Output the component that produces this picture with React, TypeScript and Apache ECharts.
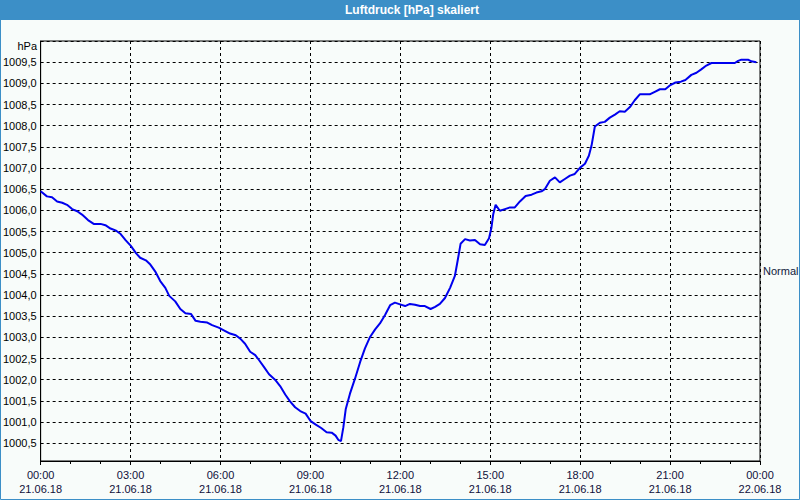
import React, { useEffect, useRef } from "react";
import * as echarts from "echarts";

const title = "Luftdruck [hPa] skaliert";
const unit = "hPa";
const normalLabel = "Normal";
const normalValue = 1004.56;

// hours since 21.06.18 00:00
const hours = [
  0.0, 0.21, 0.38, 0.55, 0.72, 0.88, 1.05, 1.22, 1.38, 1.58, 1.77, 2.0, 2.16, 2.33, 2.52, 2.67, 2.84,
  3.01, 3.18, 3.32, 3.51, 3.66, 3.82, 3.99, 4.16, 4.29, 4.49, 4.66, 4.83, 5.02, 5.17, 5.33, 5.56, 5.72,
  5.94, 6.16, 6.32, 6.51, 6.66, 6.82, 6.99, 7.16, 7.29, 7.46, 7.62, 7.82, 7.99, 8.16, 8.32, 8.49, 8.66,
  8.84, 9.01, 9.18, 9.36, 9.54, 9.71, 9.84, 9.93, 10.02, 10.1, 10.18, 10.32, 10.49, 10.66, 10.82, 10.99,
  11.16, 11.32, 11.49, 11.66, 11.82, 11.99, 12.16, 12.32, 12.49, 12.66, 12.82, 13.01, 13.16, 13.32,
  13.49, 13.66, 13.82, 13.93, 14.01, 14.16, 14.32, 14.49, 14.66, 14.82, 14.96, 15.04, 15.1, 15.18,
  15.32, 15.49, 15.66, 15.82, 15.99, 16.18, 16.38, 16.54, 16.71, 16.82, 16.99, 17.16, 17.32, 17.49,
  17.66, 17.82, 18.0, 18.16, 18.29, 18.38, 18.49, 18.66, 18.82, 18.99, 19.16, 19.32, 19.49, 19.66,
  19.82, 19.99, 20.16, 20.32, 20.49, 20.66, 20.84, 21.01, 21.18, 21.36, 21.51, 21.71, 21.88, 22.04,
  22.21, 22.38, 22.6, 22.82, 23.16, 23.27, 23.38, 23.6, 23.71, 23.88,
];

const pressure = [
  1006.45, 1006.33, 1006.31, 1006.21, 1006.18, 1006.13, 1006.03, 1005.98, 1005.9, 1005.77, 1005.68,
  1005.68, 1005.65, 1005.57, 1005.52, 1005.44, 1005.29, 1005.16, 1004.99, 1004.88, 1004.82, 1004.72,
  1004.56, 1004.33, 1004.17, 1003.98, 1003.85, 1003.67, 1003.57, 1003.55, 1003.39, 1003.37, 1003.35,
  1003.29, 1003.23, 1003.15, 1003.09, 1003.05, 1002.97, 1002.85, 1002.66, 1002.58, 1002.46, 1002.29,
  1002.13, 1002.0, 1001.85, 1001.65, 1001.49, 1001.35, 1001.26, 1001.2, 1001.02, 1000.94, 1000.86,
  1000.76, 1000.75, 1000.68, 1000.58, 1000.55, 1000.88, 1001.31, 1001.67, 1002.03, 1002.42, 1002.74,
  1003.01, 1003.19, 1003.33, 1003.53, 1003.76, 1003.82, 1003.78, 1003.74, 1003.79, 1003.77, 1003.74,
  1003.74, 1003.67, 1003.72, 1003.79, 1003.93, 1004.17, 1004.45, 1004.88, 1005.21, 1005.32, 1005.29,
  1005.3, 1005.2, 1005.18, 1005.34, 1005.59, 1005.91, 1006.13, 1005.99, 1006.03, 1006.07, 1006.07,
  1006.21, 1006.34, 1006.37, 1006.42, 1006.45, 1006.5, 1006.7, 1006.78, 1006.66, 1006.74, 1006.82,
  1006.86, 1007.01, 1007.1, 1007.29, 1007.53, 1007.98, 1008.07, 1008.09, 1008.19, 1008.26, 1008.34,
  1008.33, 1008.44, 1008.6, 1008.74, 1008.74, 1008.74, 1008.8, 1008.86, 1008.86, 1008.96, 1009.02,
  1009.04, 1009.08, 1009.2, 1009.25, 1009.33, 1009.42, 1009.48, 1009.48, 1009.48, 1009.48, 1009.53,
  1009.56, 1009.56, 1009.52, 1009.5,
];

const startDate = "21.06.18";
const endDate = "22.06.18";

const FONT = "Liberation Sans";
const BLUE = "#3c8fc7";

export default function App() {
  const ref = useRef<HTMLDivElement>(null);
  useEffect(() => {
    if (!ref.current) return;
    const chart = echarts.init(ref.current, undefined, { renderer: "svg" });
    const dash = { color: "#000", width: 1, type: [3, 3] as number[] };
    chart.setOption({
      animation: false,
      backgroundColor: "#f8fcfa",
      textStyle: { fontFamily: FONT },
      grid: {
        left: 40,
        right: 40,
        top: 41,
        bottom: 39,
        show: true,
        borderColor: "#000",
        borderWidth: 1,
        backgroundColor: "transparent",
      },
      graphic: [
        { type: "rect", shape: { x: 0, y: 0, width: 800, height: 20 }, style: { fill: BLUE }, z: 10 },
        {
          type: "rect",
          shape: { x: 0.5, y: 0.5, width: 799, height: 499 },
          style: { fill: "none", stroke: BLUE, lineWidth: 1 },
          z: 10,
        },
        {
          type: "text",
          x: 412,
          y: 10,
          style: {
            text: title,
            fill: "#fff",
            font: `bold 12px "${FONT}"`,
            align: "center",
            verticalAlign: "middle",
          },
          z: 11,
        },
        {
          type: "text",
          x: 37,
          y: 46,
          style: {
            text: unit,
            fill: "#000",
            font: `11px "${FONT}"`,
            align: "right",
            verticalAlign: "middle",
          },
        },
      ],
      xAxis: {
        type: "value",
        min: 0,
        max: 24,
        interval: 3,
        axisLine: { show: true, lineStyle: { color: "#000", width: 1 } },
        axisTick: { show: true, length: 4, inside: false, lineStyle: { color: "#000" } },
        minorTick: { show: true, splitNumber: 3, length: 3, lineStyle: { color: "#000" } },
        splitLine: { show: true, lineStyle: dash },
        axisLabel: {
          margin: 7,
          color: "#10103a",
          fontSize: 11,
          lineHeight: 14,
          fontFamily: FONT,
          formatter: (v: number) => {
            const hh = String(Math.round(v) % 24).padStart(2, "0");
            return `${hh}:00\n${v >= 24 ? endDate : startDate}`;
          },
        },
      },
      yAxis: [
        {
          type: "value",
          min: 1000.08,
          max: 1010,
          splitNumber: 20,
          axisLine: { show: true, lineStyle: { color: "#000" } },
          axisTick: { show: false },
          splitLine: { show: true, lineStyle: dash },
          axisLabel: {
            margin: 4,
            color: "#000",
            fontSize: 11,
            fontFamily: FONT,
            showMinLabel: false,
            showMaxLabel: false,
            formatter: (v: number) => v.toFixed(1).replace(".", ","),
          },
        },
      ],
      series: [
        {
          type: "line",
          data: hours.map((h, i) => [h, pressure[i]]),
          showSymbol: false,
          lineStyle: { color: "#0000ee", width: 2 },
          markLine: {
            silent: true,
            symbol: ["none", "none"],
            lineStyle: { color: "rgba(0,0,0,0)", width: 1 },
            label: {
              show: true,
              position: "end",
              distance: 3,
              formatter: normalLabel,
              color: "#10203a",
              fontSize: 11,
              fontFamily: FONT,
            },
            data: [{ yAxis: normalValue }],
          },
        },
      ],
    });
    return () => chart.dispose();
  }, []);
  return <div ref={ref} style={{ position: "fixed", left: 0, top: 0, width: 800, height: 500 }} />;
}
